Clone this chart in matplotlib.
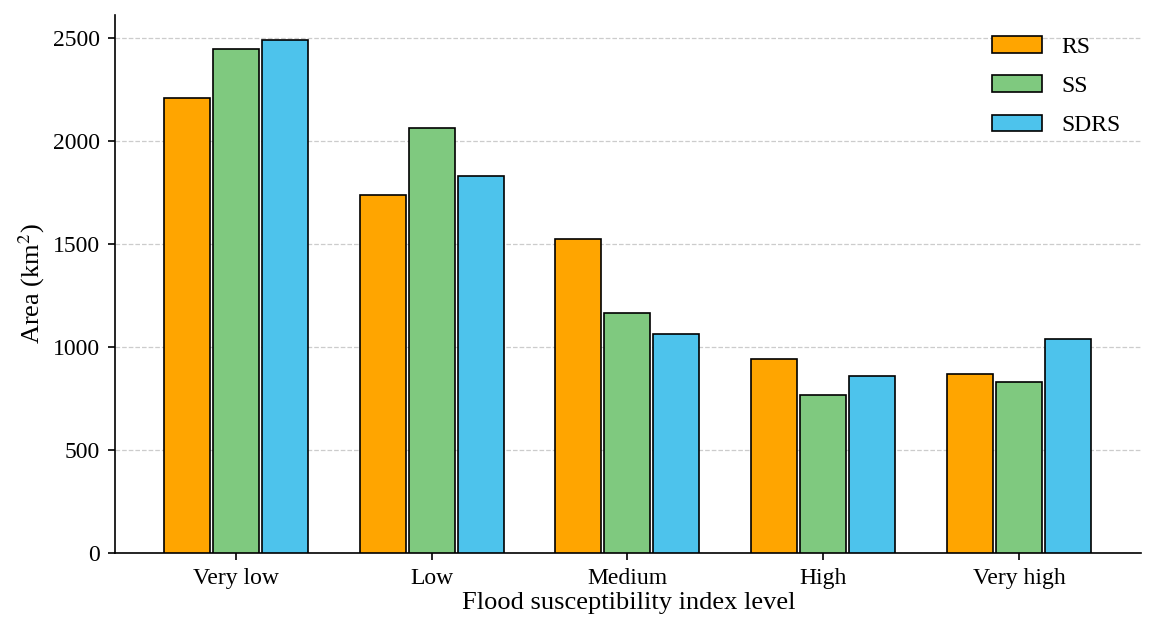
import numpy as np
import matplotlib.pyplot as plt

plt.rcParams['font.family'] = ['Liberation Serif', 'DejaVu Serif']
plt.rcParams['mathtext.fontset'] = 'stix'

# 数据
levels = ['Very low', 'Low', 'Medium', 'High', 'Very high']
rs = [2209, 1735, 1524, 942, 869]
ss = [2442, 2063, 1165, 768, 831]
sdrs = [2487, 1826, 1063, 859, 1039]

series = [('RS', rs, '#FFA500'), ('SS', ss, '#7FC97F'), ('SDRS', sdrs, '#4DC3EC')]

fig, ax = plt.subplots(figsize=(11.53, 6.34), dpi=100)
x = np.arange(len(levels))
w = 0.235
offsets = [-0.25, 0, 0.25]

for (name, vals, col), off in zip(series, offsets):
    ax.bar(x + off, vals, w, color=col, edgecolor='black', linewidth=1.2, label=name, zorder=3)

ax.set_xticks(x)
ax.set_xticklabels(levels, fontsize=17)
ax.tick_params(axis='y', labelsize=17)
ax.set_yticks(np.arange(0, 2501, 500))
ax.set_xlim(-0.615, 4.625)
ax.set_xlabel('Flood susceptibility index level', fontsize=19, labelpad=2)
ax.set_ylabel('Area (km$^2$)', fontsize=19)
ax.grid(axis='y', linestyle='--', color='#cccccc', linewidth=0.9, zorder=0)
ax.spines['top'].set_visible(False)
ax.spines['right'].set_visible(False)
ax.spines['left'].set_linewidth(1.2)
ax.spines['bottom'].set_linewidth(1.2)
ax.tick_params(width=1.2, length=5, pad=6)

ax.legend(loc='upper right', frameon=False, fontsize=17, handlelength=2.1, handleheight=0.72,
          labelspacing=0.75, handletextpad=0.8, borderaxespad=0.5)

fig.subplots_adjust(left=0.1, right=0.99, top=0.977, bottom=0.128)
fig.savefig('out.png', dpi=100)
